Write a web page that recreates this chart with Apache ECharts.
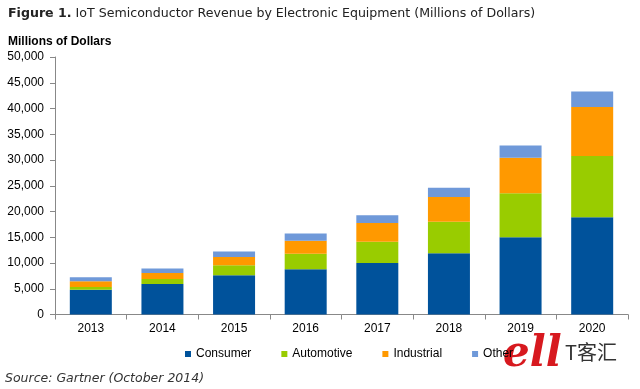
<!DOCTYPE html>
<html>
<head>
<meta charset="utf-8">
<script src="https://cdn.jsdelivr.net/npm/echarts@6/dist/echarts.min.js"></script>
<style>html,body{margin:0;padding:0;background:#fff}#c{width:640px;height:389px}</style>
</head>
<body>
<div id="c"></div>
<script>
var years = ['2013','2014','2015','2016','2017','2018','2019','2020'];
var consumer   = [4800, 5900, 7600, 8800, 10000, 11900, 15000, 18900];
var automotive = [550, 1000, 1950, 3000, 4150, 6100, 8550, 11900];
var industrial = [1100, 1150, 1600, 2500, 3600, 4800, 6900, 9500];
var other      = [780, 900, 1100, 1450, 1500, 1800, 2350, 3000];
var yTicks = {min: 0, max: 50000, interval: 5000};

var colors = ['#00529B', '#99CC00', '#FF9900', '#6F99D9'];
var chart = echarts.init(document.getElementById('c'), null, {renderer: 'canvas'});
function s(name, data, i) {
  return {name: name, type: 'bar', stack: 'total', data: data, barWidth: 42,
    itemStyle: {color: colors[i]}, emphasis: {disabled: true}};
}
chart.setOption({
  animation: false,
  backgroundColor: '#fff',
  title: [{
    text: '{b|Figure 1.} IoT Semiconductor Revenue by Electronic Equipment (Millions of Dollars)',
    left: 3, top: 2,
    textStyle: {fontFamily: 'DejaVu Sans', fontSize: 12.6, fontWeight: 'normal', color: '#222',
      rich: {b: {fontFamily: 'DejaVu Sans', fontSize: 12.6, fontWeight: 'bold', color: '#222'}}}
  }, {
    text: 'Millions of Dollars', left: 3, top: 31,
    textStyle: {fontFamily: 'Liberation Sans', fontSize: 12, fontWeight: 'bold', color: '#000'}
  }, {
    text: 'Source: Gartner (October 2014)', left: 0, top: 367,
    textStyle: {fontFamily: 'DejaVu Sans', fontSize: 12.5, fontStyle: 'italic', fontWeight: 'normal', color: '#333'}
  }],
  legend: {
    data: ['Consumer', 'Automotive', 'Industrial', 'Other'],
    left: 180, top: 343, icon: 'rect', itemWidth: 6, itemHeight: 6, itemGap: 30,
    textStyle: {fontFamily: 'Liberation Sans', fontSize: 12, color: '#000'},
    selectedMode: false
  },
  grid: {left: 55, right: 12, top: 57, bottom: 74.5, containLabel: false},
  xAxis: {
    type: 'category', data: years,
    axisLine: {lineStyle: {color: '#888', width: 1}},
    axisTick: {show: true, length: 5, lineStyle: {color: '#888'}},
    axisLabel: {fontFamily: 'Liberation Sans', fontSize: 12, color: '#000', margin: 8}
  },
  yAxis: {
    type: 'value', min: yTicks.min, max: yTicks.max, interval: yTicks.interval,
    splitLine: {show: false},
    axisLine: {show: true, lineStyle: {color: '#888', width: 1}},
    axisTick: {show: true, length: 5, lineStyle: {color: '#888'}},
    axisLabel: {fontFamily: 'Liberation Sans', fontSize: 12, color: '#000', margin: 11,
      formatter: function (v) { return v.toLocaleString('en-US'); }}
  },
  graphic: [{
    type: 'text', left: 503, top: 334,
    style: {text: 'ell', fontFamily: 'DejaVu Serif', fontStyle: 'italic', fontWeight: 'bold', fontSize: 42, fill: '#d7191f'}
  }, {
    type: 'text', left: 565, top: 342,
    style: {text: 'T客汇', fontFamily: 'Noto Sans CJK SC', fontSize: 20, fill: '#333'}
  }],
  series: [s('Consumer', consumer, 0), s('Automotive', automotive, 1), s('Industrial', industrial, 2), s('Other', other, 3)]
});
</script>
</body>
</html>
